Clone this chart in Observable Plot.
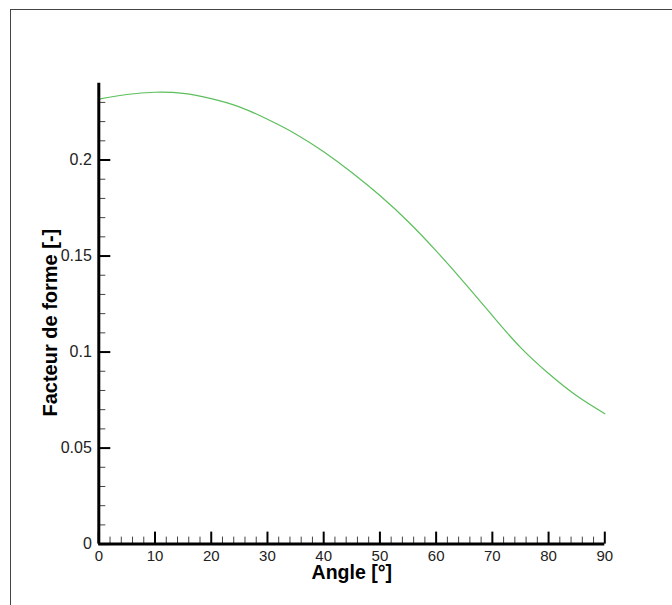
<!DOCTYPE html>
<html>
<head>
<meta charset="utf-8">
<script src="https://cdn.jsdelivr.net/npm/d3@7"></script>
<script src="https://cdn.jsdelivr.net/npm/@observablehq/plot@0.6"></script>
<style>
  html, body { margin: 0; padding: 0; background: #fff; overflow: hidden; }
  #wrap { position: relative; width: 672px; height: 605px; overflow: hidden; }
  #frame { position: absolute; left: 10px; top: 9px; width: 800px; height: 800px;
           border-left: 1.5px solid #444; border-top: 1.5px solid #444; pointer-events: none; }
  #chart { position: absolute; left: 0; top: 0; }
</style>
</head>
<body>
<div id="wrap"><div id="chart"></div><div id="frame"></div></div>
<script>
const angles = [0, 5, 10, 15, 20, 25, 30, 35, 40, 45, 50, 55, 60, 65, 70, 75, 80, 85, 90];
const facteur = [0.2317, 0.2341, 0.2353, 0.2347, 0.2320, 0.2277, 0.2212, 0.2136, 0.2043, 0.1935,
                 0.1815, 0.1680, 0.1527, 0.1362, 0.1190, 0.1024, 0.0888, 0.0772, 0.0679];
const xMajor = [0, 10, 20, 30, 40, 50, 60, 70, 80, 90];
const xMinor = d3.range(0, 91, 2).filter(v => v % 10 !== 0);
const yMajor = [0, 0.05, 0.1, 0.15, 0.2];
const yMinor = d3.range(0, 24).map(i => i / 100).filter(v => Math.round(v * 100) % 5 !== 0);
const yLabels = ["0", "0.05", "0.1", "0.15", "0.2"];
const xTitle = "Angle [°]";
const yTitle = "Facteur de forme [-]";

const data = angles.map((a, i) => ({angle: a, value: facteur[i]}));

const chart = Plot.plot({
  width: 672,
  height: 605,
  marginLeft: 98.3,
  marginRight: 67.7,
  marginTop: 82.7,
  marginBottom: 61.4,
  style: {fontFamily: "'Liberation Sans', Arial, sans-serif", background: "#fff", color: "#111"},
  x: {domain: [0, 90]},
  y: {domain: [0, 0.24]},
  marks: [
    Plot.line(data, {x: "angle", y: "value", stroke: "#5cbf5c", strokeWidth: 1.2, curve: "natural"}),
    Plot.axisX({ticks: xMinor, tickSize: -7, strokeWidth: 1, stroke: "#444", fill: "none", label: null}),
    Plot.axisX({ticks: xMajor, tickSize: -12, strokeWidth: 2, stroke: "#000", fill: "none", label: null}),
    Plot.axisX({ticks: xMajor, tickSize: 0, tickPadding: 6, fontSize: 15, fill: "#222", label: null, tickFormat: d => String(d)}),
    Plot.axisY({ticks: yMinor, tickSize: -7, strokeWidth: 1, stroke: "#444", fill: "none", label: null}),
    Plot.axisY({ticks: yMajor, tickSize: 0, tickPadding: 7, fontSize: 16, fill: "#222", label: null,
                tickFormat: d => yLabels[yMajor.indexOf(d)]}),
    Plot.axisY({ticks: yMajor, tickSize: -12, strokeWidth: 2, stroke: "#000", fill: "none", label: null}),
    Plot.ruleX([0], {stroke: "#000", strokeWidth: 3}),
    Plot.ruleY([0], {stroke: "#000", strokeWidth: 3}),
    Plot.text([xTitle], {frameAnchor: "bottom", textAnchor: "middle", dy: 35, fontSize: 19.5, fontWeight: "bold", fill: "#000"}),
    Plot.text([yTitle], {frameAnchor: "left", textAnchor: "middle", dx: -48, dy: 9, rotate: -90, fontSize: 20, fontWeight: "bold", fill: "#000"})
  ]
});
document.getElementById("chart").appendChild(chart);
</script>
</body>
</html>
